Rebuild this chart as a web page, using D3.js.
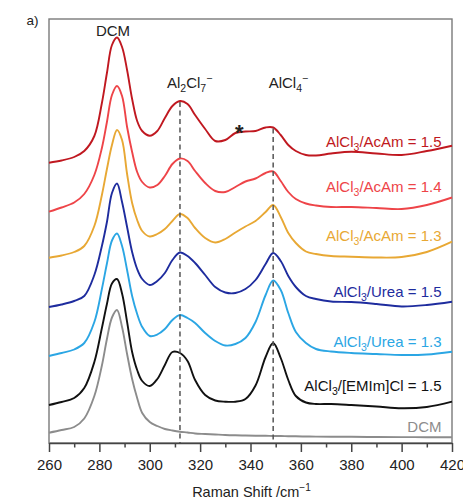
<!DOCTYPE html>
<html>
<head>
<meta charset="utf-8">
<script src="https://cdn.jsdelivr.net/npm/d3@7"></script>
<style>
  html, body { margin: 0; padding: 0; background: #fff; }
  svg { display: block; font-family: Arial, "Liberation Sans", sans-serif; }
</style>
</head>
<body>
<svg id="chart" width="463" height="501"></svg>
<script>
// Raman shift (cm-1) sample points, shared by all spectra
const shifts = [260, 265, 270, 274, 278, 281, 283, 285, 287, 289, 291, 293, 295, 297, 300, 303, 306, 309, 312, 315,
                318, 322, 326, 330, 334, 338, 342, 346, 349, 352, 355, 358, 362, 366, 372, 380, 390, 400, 410, 420];

// intensities (a.u., already stacked with offsets)
const acam15 = [28.03, 28.25, 28.6, 29.2, 30.7, 34.0, 37.0, 39.8, 40.55, 39.6, 37.3, 34.4, 32.2, 31.2, 30.73, 31.2, 32.5, 33.7, 34.2, 33.9,
                32.8, 31.4, 30.2, 30.3, 31.0, 31.15, 31.2, 31.55, 31.55, 30.8, 29.8, 29.2, 28.8, 28.75, 28.95, 29.13, 28.95, 28.8, 29.2, 29.73];
const acam14 = [23.13, 23.55, 24.05, 24.9, 26.8, 29.5, 32.1, 34.8, 35.7, 34.7, 31.6, 29.1, 27.1, 26.1, 25.55, 25.8, 26.7, 27.9, 28.45, 28.2,
                27.2, 26.0, 25.2, 25.1, 25.6, 26.15, 26.45, 27.0, 27.15, 26.2, 25.1, 24.4, 23.95, 23.75, 23.6, 23.6, 23.5, 23.4, 23.8, 24.55];
const acam13 = [18.53, 18.75, 19.1, 19.7, 21.7, 24.8, 27.4, 29.8, 31.3, 30.3, 26.9, 24.0, 22.3, 21.2, 20.65, 20.9, 21.4, 22.2, 22.9, 22.5,
                21.5, 20.5, 20.05, 20.4, 21.05, 21.65, 22.2, 23.1, 23.8, 22.6, 21.0, 20.0, 19.15, 18.9, 18.7, 18.63, 18.55, 18.6, 19.1, 20.13];
const urea15 = [13.6, 13.85, 14.2, 14.7, 16.8, 19.7, 22.1, 25.0, 25.95, 24.1, 21.6, 19.1, 17.4, 16.4, 15.8, 16.2, 17.0, 18.3, 19.05, 18.7,
                18.0, 16.8, 15.6, 15.05, 15.0, 15.4, 16.3, 17.9, 19.0, 18.2, 16.7, 15.6, 14.7, 14.4, 14.15, 14.1, 13.9, 13.65, 13.8, 14.13];
const urea13 = [8.7, 9.0, 9.35, 10.0, 12.1, 15.4, 17.95, 20.25, 20.95, 19.7, 17.3, 14.7, 12.9, 11.6, 10.7, 10.85, 11.4, 12.3, 12.8, 12.5,
                12.0, 11.0, 10.2, 9.75, 9.9, 10.5, 12.1, 14.8, 16.25, 15.3, 13.0, 11.1, 10.0, 9.4, 9.15, 9.0, 8.9, 8.8, 8.85, 9.13];
const emim15 = [3.8, 4.1, 4.5, 5.5, 8.1, 11.5, 13.9, 15.95, 16.4, 14.95, 12.12, 9.1, 7.3, 6.2, 5.7, 6.4, 7.8, 9.1, 9.0, 8.2,
                6.3, 4.8, 4.25, 4.13, 4.13, 4.4, 5.75, 8.6, 10.0, 8.5, 6.3, 4.7, 4.05, 3.9, 3.9, 3.8, 3.65, 3.47, 3.6, 4.13];
const dcm = [1.03, 1.3, 1.6, 2.45, 4.7, 7.75, 10.4, 12.55, 13.3, 11.6, 8.9, 6.4, 4.5, 3.0, 2.1, 1.7, 1.4, 1.25, 1.13, 1.05,
             0.95, 0.9, 0.85, 0.8, 0.77, 0.75, 0.73, 0.72, 0.7, 0.7, 0.68, 0.67, 0.65, 0.64, 0.63, 0.62, 0.6, 0.59, 0.58, 0.57];

const xTicks = [260, 280, 300, 320, 340, 360, 380, 400, 420];
const xMinorTicks = [270, 290, 310, 330, 350, 370, 390, 410];
const bandShifts = [312, 349];   // Al2Cl7- and AlCl4- bands

// label text pieces: [text, "sub" | "sup" | null]
const series = [
  {values: acam15, color: "#c01820", label: [["AlCl"], ["3", "sub"], ["/AcAm = 1.5"]], ly: 146.5},
  {values: acam14, color: "#ee4448", label: [["AlCl"], ["3", "sub"], ["/AcAm = 1.4"]], ly: 191.7},
  {values: acam13, color: "#e8a834", label: [["AlCl"], ["3", "sub"], ["/AcAm = 1.3"]], ly: 240.5},
  {values: urea15, color: "#1e2c9e", label: [["AlCl"], ["3", "sub"], ["/Urea = 1.5"]], ly: 296.7},
  {values: urea13, color: "#2ba6e4", label: [["AlCl"], ["3", "sub"], ["/Urea = 1.3"]], ly: 346.7},
  {values: emim15, color: "#111111", label: [["AlCl"], ["3", "sub"], ["/[EMIm]Cl = 1.5"]], ly: 390.7},
  {values: dcm, color: "#8c8c8c", label: [["DCM"]], ly: 431.7}
];

const svg = d3.select("#chart");
const x = d3.scaleLinear().domain([260, 420]).range([49, 452]);
const y = d3.scaleLinear().domain([0, 42.4]).range([443, 19]);

// writes text with sub/superscripts as tspans
function richText(sel, parts, size) {
  let shift = 0;
  parts.forEach(p => {
    let target = 0;
    let fs = size;
    if (p[1] === "sub") { target = size * 0.3; fs = size * 0.7; }
    if (p[1] === "sup") { target = -size * 0.38; fs = size * 0.7; }
    sel.append("tspan").attr("dy", target - shift).attr("font-size", fs).text(p[0]);
    shift = target;
  });
}

// frame
svg.append("rect")
  .attr("x", x(260)).attr("y", y(42.4))
  .attr("width", x(420) - x(260)).attr("height", y(0) - y(42.4))
  .attr("fill", "none").attr("stroke", "#7a7a7a").attr("stroke-width", 1.4);

// spectra
const line = d3.line()
  .x((d, i) => x(shifts[i]))
  .y(d => y(d))
  .curve(d3.curveCatmullRom.alpha(0.5));

svg.append("g").selectAll("path")
  .data(series)
  .join("path")
  .attr("d", d => line(d.values))
  .attr("fill", "none")
  .attr("stroke", d => d.color)
  .attr("stroke-width", 1.9)
  .attr("stroke-linejoin", "round");

// band markers: dashed from top spectrum down to axis
svg.append("g").selectAll("line")
  .data(bandShifts)
  .join("line")
  .attr("x1", d => x(d)).attr("x2", d => x(d))
  .attr("y1", d => y(acam15[shifts.indexOf(d)]) + 1)
  .attr("y2", y(0))
  .attr("stroke", "#555")
  .attr("stroke-width", 1.5)
  .attr("stroke-dasharray", "5,3.5");

// x axis
const axis = svg.append("g").attr("transform", `translate(0,${y(0)})`);
axis.call(d3.axisBottom(x).tickValues(xTicks).tickSize(9).tickSizeOuter(0).tickPadding(7).tickFormat(d3.format("d")));
axis.append("g").call(d3.axisBottom(x).tickValues(xMinorTicks).tickSize(4.5).tickSizeOuter(0).tickFormat(""))
  .select(".domain").remove();
axis.selectAll(".domain").attr("stroke", "#444").attr("stroke-width", 1.6);
axis.selectAll(".tick line").attr("stroke", "#444").attr("stroke-width", 1.5);
axis.selectAll(".tick text").attr("font-size", 15).attr("fill", "#222")
  .attr("font-family", "Arial, 'Liberation Sans', sans-serif");

// axis title
const title = svg.append("text")
  .attr("x", (x(260) + x(420)) / 2 + 1).attr("y", 496.5)
  .attr("text-anchor", "middle").attr("font-size", 14.5).attr("fill", "#222");
richText(title, [["Raman Shift /cm"], ["\u22121", "sup"]], 14.5);

// series labels
series.forEach(s => {
  const t = svg.append("text")
    .attr("x", 441.5).attr("y", s.ly)
    .attr("text-anchor", "end").attr("font-size", 15).attr("fill", s.color);
  richText(t, s.label, 15);
});

// peak annotations
svg.append("text").attr("x", x(287) - 4).attr("y", 35.7)
  .attr("text-anchor", "middle").attr("font-size", 15).attr("fill", "#222").text("DCM");

const a1 = svg.append("text").attr("x", x(312) - 13).attr("y", 87.5)
  .attr("font-size", 15).attr("fill", "#222");
richText(a1, [["Al"], ["2", "sub"], ["Cl"], ["7", "sub"], ["\u2212", "sup"]], 15);

const a2 = svg.append("text").attr("x", x(349) - 4.5).attr("y", 87.5)
  .attr("font-size", 15).attr("fill", "#222");
richText(a2, [["AlCl"], ["4", "sub"], ["\u2212", "sup"]], 15);

svg.append("text").attr("x", x(335.5)).attr("y", 140)
  .attr("text-anchor", "middle").attr("font-size", 22).attr("font-weight", "bold")
  .attr("fill", "#222").text("*");

// panel letter
svg.append("text").attr("x", 26.5).attr("y", 25)
  .attr("font-size", 13.5).attr("fill", "#222").text("a)");
</script>
</body>
</html>
